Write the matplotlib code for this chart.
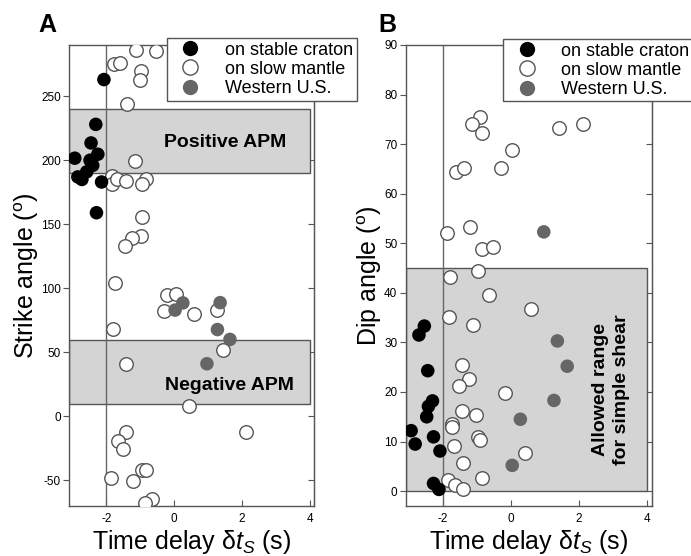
import matplotlib
matplotlib.use('Agg')
from matplotlib import pyplot as plt
from matplotlib.patches import Rectangle
from matplotlib.lines import Line2D

plt.rcParams['font.family'] = ['Liberation Sans', 'DejaVu Sans']
plt.rcParams['mathtext.fontset'] = 'custom'
plt.rcParams['mathtext.rm'] = 'Liberation Sans'
plt.rcParams['mathtext.it'] = 'Liberation Sans:italic'
plt.rcParams['axes.unicode_minus'] = False

# Panel A: strike angle vs time delay
a_craton_x = [-2.07, -2.31, -2.45, -2.25, -2.93, -2.48, -2.40, -2.58, -2.84, -2.72, -2.14, -2.29]
a_craton_y = [263, 228, 213.5, 204.7, 201.6, 200, 196, 190.9, 187, 185, 183, 159]
a_slow_x = [-1.12, -0.53, -1.76, -1.61, -0.97, -1.02, -1.39, -1.14, -1.82, -1.84, -1.68, -1.43,
            -0.84, -0.96, -0.94, -0.99, -1.24, -1.46, -1.75,
            -0.22, 0.05, -0.31, 0.59, 1.27, -1.81, 1.43, -1.41, 0.43, -1.41, -1.65, -1.51,
            2.13, -1.86, -1.22, -0.94, -0.84, -0.65, -0.87]
a_slow_y = [286, 285, 275, 275.8, 269.5, 262.5, 244, 199.5, 188, 181.8, 185.7, 183.6,
            185, 181.8, 155.7, 140.6, 139, 132.8, 104.5,
            94.5, 95.8, 82, 80, 83.4, 68.5, 52.1, 40.6, 7.8, -12.5, -19.3, -25.3,
            -12.5, -48.4, -50.5, -41.7, -42.2, -64.3, -67.4]
a_west_x = [0.03, 0.26, 1.36, 1.28, 1.65, 0.97]
a_west_y = [83, 88.6, 88.8, 67.8, 60.1, 41.1]

# Panel B: dip angle vs time delay
b_craton_x = [-2.55, -2.71, -2.45, -2.31, -2.43, -2.48, -2.94, -2.82, -2.28, -2.09, -2.28, -2.12]
b_craton_y = [33.3, 31.5, 24.3, 18.2, 17.1, 15.0, 12.2, 9.5, 10.95, 8.1, 1.55, 0.35]
b_slow_x = [-0.91, -1.14, -0.84, 1.42, 2.13, 0.04, -1.63, -1.38, -0.30, -1.87, -1.21, -0.84,
            -0.52, -0.98, -1.80, -0.65, 0.59, -1.82, -1.13, -1.45, -1.24, -1.53, -0.18, -1.43,
            -1.03, -1.73, -1.73, -0.98, -0.91, -1.68, 0.43, -1.40, -0.84, -1.86, -1.65, -1.40]
b_slow_y = [75.5, 74.1, 72.3, 73.3, 74.0, 68.75, 64.3, 65.1, 65.1, 52.0, 53.3, 48.9,
            49.3, 44.4, 43.2, 39.5, 36.8, 35.1, 33.6, 25.5, 22.7, 21.2, 19.7, 16.1,
            15.3, 13.5, 12.96, 10.9, 10.3, 9.1, 7.6, 5.7, 2.75, 2.2, 1.2, 0.5]
b_west_x = [0.97, 1.37, 1.66, 1.27, 0.28, 0.04]
b_west_y = [52.3, 30.3, 25.2, 18.3, 14.5, 5.2]

labels = ['on stable craton', 'on slow mantle', 'Western U.S.']
xticks = [-2, 0, 2, 4]
a_yticks = [-50, 0, 50, 100, 150, 200, 250]
b_yticks = list(range(0, 91, 10))

spine_col = '#555555'
west_col = '#666666'
box_col = '#d4d4d4'
ms = 95

fig = plt.figure(figsize=(6.91, 5.56), dpi=100)
axA = fig.add_axes([0.0999, 0.0899, 0.3545, 0.8292])
axB = fig.add_axes([0.5871, 0.0899, 0.3560, 0.8292])


def style_axes(ax, yticks):
    for s in ax.spines.values():
        s.set_color(spine_col)
        s.set_linewidth(1.0)
    ax.set_xticks(xticks)
    ax.set_yticks(yticks)
    ax.tick_params(axis='y', left=True, right=False, direction='out',
                   length=4, labelsize=8.5, color=spine_col, pad=2)
    ax.tick_params(axis='x', bottom=True, top=False, direction='in',
                   length=4, labelsize=8.5, color=spine_col, pad=5)
    # inward ticks on the right side
    sec = ax.secondary_yaxis('right')
    sec.set_yticks(yticks)
    sec.tick_params(direction='in', length=4, color=spine_col, labelright=False)
    sec.spines['right'].set_color(spine_col)
    ax.axvline(-2, color='#666666', lw=1.0, zorder=2)


def draw_points(ax, cx, cy, sx, sy, wx, wy):
    ax.scatter(sx, sy, s=ms, facecolor='white', edgecolor='#555555', linewidth=1.0, zorder=3)
    ax.scatter(wx, wy, s=ms, facecolor=west_col, edgecolor='none', zorder=4)
    ax.scatter(cx, cy, s=ms, facecolor='black', edgecolor='none', zorder=5)


# ---- Panel A
xmin, xmax = -3.1, 4.13
axA.set_xlim(xmin, xmax)
axA.set_ylim(-70, 290)
axA.add_patch(Rectangle((xmin, 190), 4 - xmin, 50, facecolor=box_col, edgecolor=spine_col,
                        lw=1.0, zorder=1))
axA.add_patch(Rectangle((xmin, 10), 4 - xmin, 50, facecolor=box_col, edgecolor=spine_col,
                        lw=1.0, zorder=1))
style_axes(axA, a_yticks)
draw_points(axA, a_craton_x, a_craton_y, a_slow_x, a_slow_y, a_west_x, a_west_y)
axA.text(1.5, 214, 'Positive APM', fontsize=14, fontweight='bold', ha='center', va='center', zorder=6)
axA.text(1.62, 24, 'Negative APM', fontsize=14, fontweight='bold', ha='center', va='center', zorder=6)
axA.set_ylabel(r'Strike angle ($^{\rm o}$)', fontsize=18, labelpad=0)
axA.set_xlabel(r'Time delay δ$t_S$ (s)', fontsize=18, labelpad=2)

# ---- Panel B
axB.set_xlim(xmin, 4.15)
axB.set_ylim(-3, 90)
axB.add_patch(Rectangle((xmin, 0), 4 - xmin, 45, facecolor=box_col, edgecolor=spine_col,
                        lw=1.0, zorder=1))
style_axes(axB, b_yticks)
draw_points(axB, b_craton_x, b_craton_y, b_slow_x, b_slow_y, b_west_x, b_west_y)
axB.text(2.96, 20.5, 'Allowed range\nfor simple shear', fontsize=14, fontweight='bold',
         rotation=90, ha='center', va='center', linespacing=1.3, zorder=6)
axB.set_ylabel(r'Dip angle ($^{\rm o}$)', fontsize=18, labelpad=0)
axB.set_xlabel(r'Time delay δ$t_S$ (s)', fontsize=18, labelpad=2)

# legends
handles = [
    Line2D([], [], marker='o', ls='none', markersize=11, markerfacecolor='black', markeredgecolor='none'),
    Line2D([], [], marker='o', ls='none', markersize=11, markerfacecolor='white', markeredgecolor='#555555'),
    Line2D([], [], marker='o', ls='none', markersize=11, markerfacecolor=west_col, markeredgecolor='none'),
]
for pos in [(0.2417, 0.9317), (0.728, 0.93)]:
    leg = fig.legend(handles, labels, loc='upper left', bbox_to_anchor=pos, fontsize=13,
                     frameon=True, fancybox=False, framealpha=1, edgecolor=spine_col,
                     borderpad=0.2, labelspacing=0.12, handletextpad=0.8, handlelength=2.2,
                     borderaxespad=0)
    leg.get_frame().set_linewidth(1.0)

fig.text(0.055, 0.955, 'A', fontsize=18, fontweight='bold', ha='left', va='center')
fig.text(0.547, 0.955, 'B', fontsize=18, fontweight='bold', ha='left', va='center')

plt.savefig('out.png', dpi=100)
